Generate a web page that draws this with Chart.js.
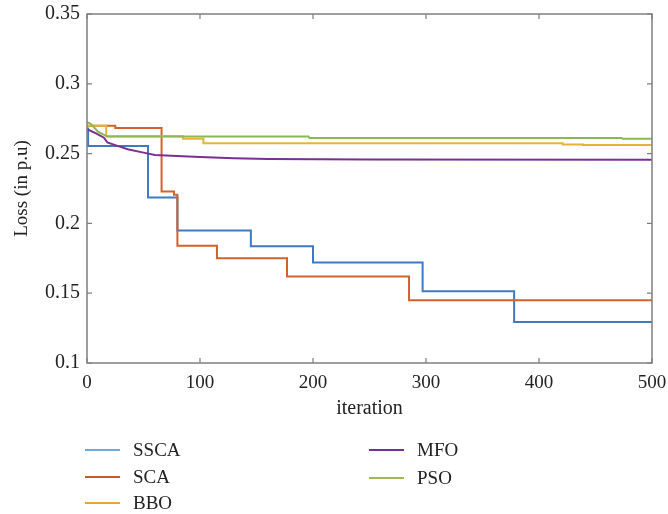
<!DOCTYPE html>
<html>
<head>
<meta charset="utf-8">
<script src="https://cdn.jsdelivr.net/npm/chart.js@4/dist/chart.umd.min.js"></script>
<style>
  body { margin: 0; background: #fff; }
  #wrap { position: relative; width: 668px; height: 514px; }
  #legend { position: absolute; left: 0; top: 0; width: 668px; height: 514px; pointer-events: none; }
  .item { position: absolute; height: 24px; font-family: "Liberation Serif", "DejaVu Serif", serif; font-size: 19px; color: #222; }
  .item span.sw { position: absolute; left: 0; top: 11px; width: 35px; height: 2px; }
  .item span.tx { position: absolute; left: 48px; top: 0; line-height: 24px; white-space: nowrap; }
</style>
</head>
<body>
<div id="wrap">
  <canvas id="myChart" width="668" height="514"></canvas>
  <div id="legend"></div>
</div>
<script>
// values
var names = ['SSCA', 'SCA', 'BBO', 'MFO', 'PSO'];
var lineColors = ['#3f79c2', '#d2622b', '#e7b23a', '#7a3092', '#8bb852'];
var legendColors = ['#6fa8dc', '#c55a28', '#e0a82c', '#7030a0', '#9bbb59'];
var isStepped = [true, true, true, false, false];

// stepped series: iteration where a level starts, loss from there on
var ssca_iter = [0, 1, 54, 80, 145, 200, 297, 378, 500];
var ssca_loss = [0.268, 0.2555, 0.2186, 0.195, 0.1836, 0.172, 0.1514, 0.1293, 0.1293];

var sca_iter = [0, 25, 66, 77, 80, 115, 177, 285, 500];
var sca_loss = [0.270, 0.2683, 0.2229, 0.2205, 0.184, 0.175, 0.162, 0.145, 0.145];

var bbo_iter = [0, 17, 85, 103, 421, 439, 500];
var bbo_loss = [0.270, 0.2625, 0.2607, 0.2574, 0.2566, 0.2562, 0.2562];

// MFO and PSO decline more gradually: plain polyline points
var mfo_iter = [0, 8, 15, 18, 27, 36, 50, 60, 80, 100, 130, 160, 250, 500];
var mfo_loss = [0.2675, 0.2645, 0.2614, 0.258, 0.2555, 0.2531, 0.2507, 0.249, 0.2482, 0.2475, 0.2467, 0.2462, 0.2458, 0.2456];

var pso_iter = [0, 3, 10, 18, 196, 197, 473, 474, 500];
var pso_loss = [0.2725, 0.2715, 0.2655, 0.2622, 0.2622, 0.2611, 0.2611, 0.2606, 0.2606];

var xTicks = [0, 100, 200, 300, 400, 500];
var yTicks = [0.1, 0.15, 0.2, 0.25, 0.3, 0.35];
var yTickLabels = ['0.1', '0.15', '0.2', '0.25', '0.3', '0.35'];

var allIters = [ssca_iter, sca_iter, bbo_iter, mfo_iter, pso_iter];
var allLoss = [ssca_loss, sca_loss, bbo_loss, mfo_loss, pso_loss];

var datasets = [];
for (var i = 0; i < names.length; i++) {
    var pts = [];
    for (var n = 0; n < allIters[i].length; n++) {
        pts.push({ x: allIters[i][n], y: allLoss[i][n] });
    }
    datasets.push({
        label: names[i],
        data: pts,
        borderColor: lineColors[i],
        backgroundColor: lineColors[i],
        borderWidth: 2,
        pointRadius: 0,
        stepped: isStepped[i],
        tension: 0,
        fill: false,
        order: names.length - i   // later series on top, like the original
    });
}

var serif = "'Liberation Serif', 'DejaVu Serif', serif";

// box round the plot with inward ticks on all four sides
const boxTicks = {
    id: 'boxTicks',
    afterDatasetsDraw(chart) {
        const ctx = chart.ctx;
        const a = chart.chartArea;
        const xs = chart.scales.x, ys = chart.scales.y;
        ctx.save();
        ctx.strokeStyle = '#7f7f7f';
        ctx.lineWidth = 1.5;
        ctx.strokeRect(a.left, a.top, a.right - a.left, a.bottom - a.top);
        ctx.lineWidth = 1.2;
        ctx.beginPath();
        xTicks.forEach(function (v) {
            var px = xs.getPixelForValue(v);
            ctx.moveTo(px, a.bottom); ctx.lineTo(px, a.bottom - 5);
            ctx.moveTo(px, a.top); ctx.lineTo(px, a.top + 5);
        });
        yTicks.forEach(function (v) {
            var py = ys.getPixelForValue(v);
            ctx.moveTo(a.left, py); ctx.lineTo(a.left + 5, py);
            ctx.moveTo(a.right, py); ctx.lineTo(a.right - 5, py);
        });
        ctx.stroke();
        ctx.restore();
    }
};

const ctx = document.getElementById('myChart').getContext('2d');
const myChart = new Chart(ctx, {
    type: 'line',
    data: { datasets: datasets },
    options: {
        responsive: false,
        animation: false,
        events: [],
        layout: { padding: { top: 14, right: 16, left: 0, bottom: 93 } },
        plugins: { legend: { display: false }, tooltip: { enabled: false } },
        scales: {
            x: {
                type: 'linear',
                min: 0, max: 500,
                afterBuildTicks: function (s) { s.ticks = xTicks.map(function (v) { return { value: v }; }); },
                afterFit: function (s) { s.height = 58; s.paddingLeft = 0; s.paddingRight = 0; },
                grid: { display: false, drawTicks: false },
                border: { display: false },
                ticks: { padding: 9, color: '#222', font: { family: serif, size: 19 }, maxRotation: 0 },
                title: { display: true, text: 'iteration', color: '#222', padding: { top: 0, bottom: 0 }, font: { family: serif, size: 20 } }
            },
            y: {
                type: 'linear',
                min: 0.1, max: 0.35,
                afterBuildTicks: function (s) { s.ticks = yTicks.map(function (v) { return { value: v }; }); },
                afterFit: function (s) { s.width = 87; s.paddingTop = 0; s.paddingBottom = 0; },
                grid: { display: false, drawTicks: false },
                border: { display: false },
                ticks: {
                    padding: 7, color: '#222', font: { family: serif, size: 20 },
                    callback: function (v, idx) { return yTickLabels[idx]; }
                },
                title: { display: true, text: 'Loss (in p.u)', color: '#222', padding: { top: 11, bottom: 0 }, font: { family: serif, size: 19 } }
            }
        }
    },
    plugins: [boxTicks]
});

// legend in two columns under the plot, like the original figure
var legendPos = [[85, 438], [85, 465], [85, 491], [369, 438], [369, 466]];
var lg = document.getElementById('legend');
for (var k = 0; k < names.length; k++) {
    var it = document.createElement('div');
    it.className = 'item';
    it.style.left = legendPos[k][0] + 'px';
    it.style.top = legendPos[k][1] + 'px';
    it.innerHTML = '<span class="sw" style="background:' + legendColors[k] + '"></span><span class="tx">' + names[k] + '</span>';
    lg.appendChild(it);
}
</script>
</body>
</html>
